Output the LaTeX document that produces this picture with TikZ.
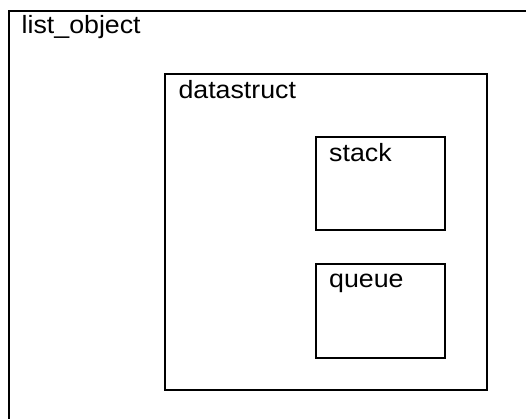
\documentclass[tikz,border=0pt]{standalone}
\usepackage{fontspec}
\setmainfont{Liberation Sans}[FakeStretch=1.07]
\usepackage{tikz}
\usetikzlibrary{calc, positioning}
\tikzset{
	box/.style={draw, line width=2pt, inner sep=0pt, anchor=north west},
	boxlabel/.style={inner sep=0pt, anchor=base west, font=\fontsize{25}{30}\selectfont}
}

\begin{document}
\begin{tikzpicture}[x=1pt, y=-1pt]
			\useasboundingbox (0,0) rectangle (526,419);
			\clip (0,0) rectangle (526,419);
			\node[box, minimum width=540pt, minimum height=440pt] (listobj) at (8,10) {};
			\node[boxlabel] (listobjlabel) at ($(listobj.north west)+(13.5,24)$) {list\_object};
			\node[box, minimum width=321.4pt, minimum height=316pt] (datastruct) at (164.3,73.3) {};
			\node[boxlabel] (datastructlabel) at ($(datastruct.north west)+(14,25)$) {datastruct};
			\node[box, minimum width=129.2pt, minimum height=93.6pt] (stack) at (315,135.7) {};
			\node[boxlabel] (stacklabel) at ($(stack.north west)+(14,26)$) {stack};
			\node[box, minimum width=129.2pt, minimum height=93.7pt] (queue) at (315,263.3) {};
			\node[boxlabel] (queuelabel) at ($(queue.north west)+(14,24.5)$) {queue};
		\end{tikzpicture}
\end{document}
